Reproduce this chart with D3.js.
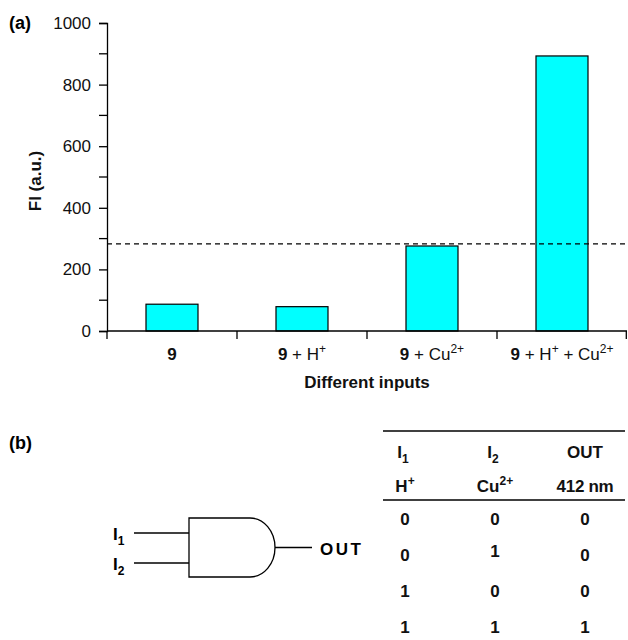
<!DOCTYPE html>
<html>
<head>
<meta charset="utf-8">
<script src="https://cdn.jsdelivr.net/npm/d3@7"></script>
<style>
  body { margin: 0; background: #fff; }
  svg { font-family: "Liberation Sans", Arial, sans-serif; }
</style>
</head>
<body>
<svg id="chart" width="628" height="640"></svg>
<script>
// ---------- Data ----------
const categories = ['9', '9+H', '9+Cu', '9+H+Cu'];
// label pieces: [text, style] where style is 'b' bold, 'n' normal, 's' superscript
const categoryLabels = [
  [['9', 'b']],
  [['9', 'b'], [' + H', 'n'], ['+', 's']],
  [['9', 'b'], [' + Cu', 'n'], ['2+', 's']],
  [['9', 'b'], [' + H', 'n'], ['+', 's'], [' + Cu', 'n'], ['2+', 's']]
];
const fiValues = [87, 79, 276, 893];
const threshold = 283;
const yTicks = [0, 200, 400, 600, 800, 1000];
const yMinorTicks = [100, 300, 500, 700, 900];

const truthRows = [
  [0, 0, 0],
  [0, 1, 0],
  [1, 0, 0],
  [1, 1, 1]
];

// ---------- Layout ----------
const svg = d3.select('#chart');
const plot = { left: 107, right: 627, top: 23, bottom: 331 };
const FS = 17;

const x = d3.scaleBand()
  .domain(categories)
  .range([plot.left, plot.right])
  .paddingInner(0.6)
  .paddingOuter(0.3);

const y = d3.scaleLinear()
  .domain([0, 1000])
  .range([plot.bottom, plot.top]);

const g = svg.append('g');

// ---------- Bars ----------
g.selectAll('rect.bar')
  .data(categories)
  .join('rect')
  .attr('class', 'bar')
  .attr('x', d => x(d))
  .attr('width', x.bandwidth())
  .attr('y', (d, i) => y(fiValues[i]))
  .attr('height', (d, i) => y(0) - y(fiValues[i]))
  .attr('fill', '#00ffff')
  .attr('stroke', '#000')
  .attr('stroke-width', 1.2);

// ---------- Threshold ----------
g.append('line')
  .attr('x1', plot.left)
  .attr('x2', plot.right)
  .attr('y1', y(threshold))
  .attr('y2', y(threshold))
  .attr('stroke', '#000')
  .attr('stroke-width', 1.2)
  .attr('stroke-dasharray', '5,4');

// ---------- Y axis ----------
const yAxis = d3.axisLeft(y)
  .tickValues(yTicks)
  .tickFormat(d3.format('d'))
  .tickSize(8)
  .tickPadding(8);

const yAxisG = g.append('g')
  .attr('transform', `translate(${plot.left},0)`)
  .call(yAxis);
yAxisG.attr('font-size', FS).attr('font-family', null);
yAxisG.select('.domain').attr('stroke-width', 1.3);
yAxisG.selectAll('.tick line').attr('stroke-width', 1.3);
yAxisG.selectAll('.tick text').attr('fill', '#111');

yAxisG.selectAll('line.minor')
  .data(yMinorTicks)
  .join('line')
  .attr('class', 'minor')
  .attr('x1', -8)
  .attr('x2', 0)
  .attr('y1', d => y(d))
  .attr('y2', d => y(d))
  .attr('stroke', '#000')
  .attr('stroke-width', 1.3);

// ---------- X axis ----------
const xAxisG = g.append('g');
xAxisG.append('line')
  .attr('x1', plot.left).attr('x2', plot.right)
  .attr('y1', plot.bottom).attr('y2', plot.bottom)
  .attr('stroke', '#000').attr('stroke-width', 1.3);

const bandEdges = [plot.left, ...categories.slice(1).map(c => x(c) - x.step() * x.paddingInner() / 2), plot.right - 0.7];
xAxisG.selectAll('line.xtick')
  .data(bandEdges)
  .join('line')
  .attr('class', 'xtick')
  .attr('x1', d => d).attr('x2', d => d)
  .attr('y1', plot.bottom).attr('y2', plot.bottom + 8)
  .attr('stroke', '#000').attr('stroke-width', 1.3);

const xLabels = xAxisG.selectAll('text.xlabel')
  .data(categories)
  .join('text')
  .attr('class', 'xlabel')
  .attr('x', d => x(d) + x.bandwidth() / 2)
  .attr('y', 360)
  .attr('text-anchor', 'middle')
  .attr('font-size', FS)
  .attr('fill', '#111');

xLabels.each(function(d, i) {
  const t = d3.select(this);
  let shifted = false;
  categoryLabels[i].forEach(([txt, st]) => {
    const sp = t.append('tspan').text(txt);
    if (st === 'b') sp.attr('font-weight', 'bold');
    if (st === 's') {
      sp.attr('font-size', 12).attr('dy', -7);
      shifted = true;
    } else if (shifted) {
      sp.attr('dy', 7);
      shifted = false;
    }
  });
});

// ---------- Axis titles ----------
g.append('text')
  .attr('x', 367)
  .attr('y', 388)
  .attr('text-anchor', 'middle')
  .attr('font-size', FS)
  .attr('font-weight', 'bold')
  .attr('fill', '#111')
  .text('Different inputs');

g.append('text')
  .attr('transform', `translate(41,181) rotate(-90)`)
  .attr('text-anchor', 'middle')
  .attr('font-size', FS)
  .attr('font-weight', 'bold')
  .attr('fill', '#111')
  .text('FI (a.u.)');

// ---------- Panel labels ----------
svg.append('text')
  .attr('x', 9).attr('y', 29)
  .attr('font-size', 18).attr('font-weight', 'bold')
  .text('(a)');

svg.append('text')
  .attr('x', 9).attr('y', 449)
  .attr('font-size', 18).attr('font-weight', 'bold')
  .text('(b)');

// ---------- AND gate ----------
const gate = svg.append('g');
const gx0 = 189, gx1 = 250, gy0 = 518, gy1 = 577, arcR = 25;
const gym = (gy0 + gy1) / 2;

gate.append('path')
  .attr('d', `M${gx1},${gy0} L${gx0},${gy0} L${gx0},${gy1} L${gx1},${gy1} A${arcR},${(gy1 - gy0) / 2} 0 0 0 ${gx1},${gy0}`)
  .attr('fill', 'none')
  .attr('stroke', '#000')
  .attr('stroke-width', 1.3);

[533, 563].forEach((yy, i) => {
  gate.append('line')
    .attr('x1', 134).attr('x2', gx0)
    .attr('y1', yy).attr('y2', yy)
    .attr('stroke', '#000').attr('stroke-width', 1.3);
  const t = gate.append('text')
    .attr('x', 113).attr('y', yy + 7)
    .attr('font-size', FS).attr('font-weight', 'bold');
  t.append('tspan').text('I');
  t.append('tspan').attr('font-size', 12).attr('dy', 5).text(i + 1);
});

gate.append('line')
  .attr('x1', gx1 + arcR).attr('x2', 312)
  .attr('y1', gym).attr('y2', gym)
  .attr('stroke', '#000').attr('stroke-width', 1.3);

gate.append('text')
  .attr('x', 320).attr('y', gym + 7)
  .attr('font-size', FS).attr('font-weight', 'bold')
  .attr('letter-spacing', 2.5)
  .text('OUT');

// ---------- Truth table ----------
const table = svg.append('g').attr('font-weight', 'bold').attr('font-size', FS).attr('fill', '#111');
const colX = [405, 495, 585];

table.append('line')
  .attr('x1', 383).attr('x2', 625).attr('y1', 431).attr('y2', 431)
  .attr('stroke', '#000').attr('stroke-width', 1.3);
table.append('line')
  .attr('x1', 383).attr('x2', 625).attr('y1', 500).attr('y2', 500)
  .attr('stroke', '#000').attr('stroke-width', 1.3);

// header row 1
const h1 = [['I', '1'], ['I', '2']];
h1.forEach(([a, b], i) => {
  const t = table.append('text').attr('x', colX[i] - 2).attr('y', 458).attr('text-anchor', 'middle');
  t.append('tspan').text(a);
  t.append('tspan').attr('font-size', 12).attr('dy', 5).text(b);
});
table.append('text').attr('x', colX[2]).attr('y', 458).attr('text-anchor', 'middle').text('OUT');

// header row 2
const h2 = [['H', '+'], ['Cu', '2+']];
h2.forEach(([a, b], i) => {
  const t = table.append('text').attr('x', colX[i]).attr('y', 492).attr('text-anchor', 'middle');
  t.append('tspan').text(a);
  t.append('tspan').attr('font-size', 12).attr('dy', -7).text(b);
});
table.append('text').attr('x', colX[2]).attr('y', 492).attr('text-anchor', 'middle')
  .attr('letter-spacing', -0.3).text('412 nm');

// rows
const rowY = d3.scalePoint().domain(d3.range(truthRows.length)).range([525, 633]);
truthRows.forEach((row, r) => {
  row.forEach((v, c) => {
    const lift = (r === 1 && c === 1) ? -4 : 0;
    table.append('text')
      .attr('x', colX[c])
      .attr('y', rowY(r) + lift)
      .attr('text-anchor', 'middle')
      .text(v);
  });
});
</script>
</body>
</html>
